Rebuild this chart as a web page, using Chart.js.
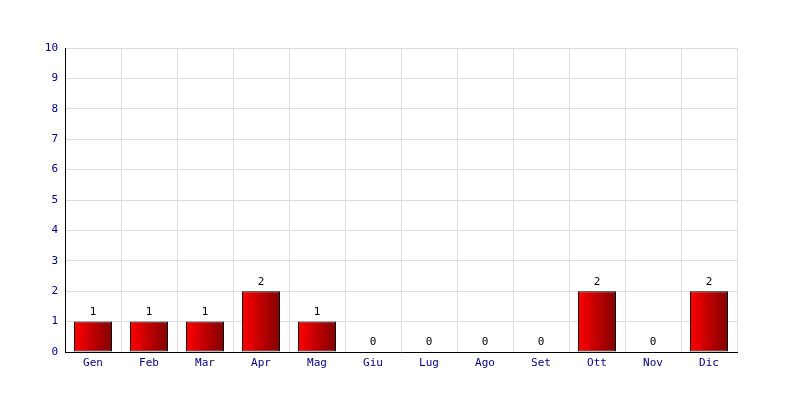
<!DOCTYPE html>
<html>
<head>
<meta charset="utf-8">
<script src="https://cdn.jsdelivr.net/npm/chart.js@4"></script>
<style>
  html, body { margin: 0; padding: 0; background: #fff; }
  #wrap { width: 800px; height: 400px; }
</style>
</head>
<body>
<div id="wrap"><canvas id="barChart"></canvas></div>
<script>
const months = ['Gen', 'Feb', 'Mar', 'Apr', 'Mag', 'Giu', 'Lug', 'Ago', 'Set', 'Ott', 'Nov', 'Dic'];
const counts = [1, 1, 1, 2, 1, 0, 0, 0, 0, 2, 0, 2];
const yTicks = [0, 1, 2, 3, 4, 5, 6, 7, 8, 9, 10];

const monoFont = { family: '"DejaVu Sans Mono", monospace', size: 11 };

// horizontal red -> dark red gradient for one bar
function barGradient(context) {
    const chart = context.chart;
    const xs = chart.scales.x;
    if (!xs || !chart.chartArea) return '#ff0000';
    const center = xs.getPixelForValue(context.dataIndex);
    const half = (xs.width / months.length) * 0.68 / 2;
    const g = chart.ctx.createLinearGradient(center - half, 0, center + half, 0);
    g.addColorStop(0, '#ff0000');
    g.addColorStop(1, '#800000');
    return g;
}

// value above each bar
const valueLabels = {
    id: 'valueLabels',
    afterDatasetsDraw(chart) {
        const c = chart.ctx;
        c.save();
        c.font = '11px "DejaVu Sans Mono", monospace';
        c.fillStyle = '#000';
        c.textAlign = 'center';
        c.textBaseline = 'bottom';
        chart.getDatasetMeta(0).data.forEach((bar, i) => {
            c.fillText(String(counts[i]), bar.x, bar.y - 4);
        });
        c.restore();
    }
};

new Chart(document.getElementById('barChart'), {
    type: 'bar',
    data: {
        labels: months,
        datasets: [{
            data: counts,
            backgroundColor: barGradient,
            borderColor: '#000',
            borderWidth: 1,
            borderSkipped: false,
            categoryPercentage: 1,
            barPercentage: 0.68
        }]
    },
    options: {
        responsive: true,
        maintainAspectRatio: false,
        animation: false,
        layout: { padding: { left: 0, right: 63, top: 48, bottom: 0 } },
        plugins: {
            legend: { display: false },
            tooltip: { enabled: false }
        },
        scales: {
            x: {
                grid: { color: '#dcdcdc', drawTicks: false, offset: true },
                border: { color: '#000' },
                ticks: { color: '#000080', font: monoFont, padding: 5, maxRotation: 0 },
                afterFit(scale) { scale.height = 48; }
            },
            y: {
                min: 0,
                max: 10,
                afterBuildTicks(scale) { scale.ticks = yTicks.map(v => ({ value: v })); },
                grid: { color: '#dcdcdc', drawTicks: false },
                border: { color: '#000' },
                ticks: { color: '#000080', font: monoFont, padding: 7 },
                afterFit(scale) { scale.width = 65; }
            }
        }
    },
    plugins: [valueLabels]
});
</script>
</body>
</html>
